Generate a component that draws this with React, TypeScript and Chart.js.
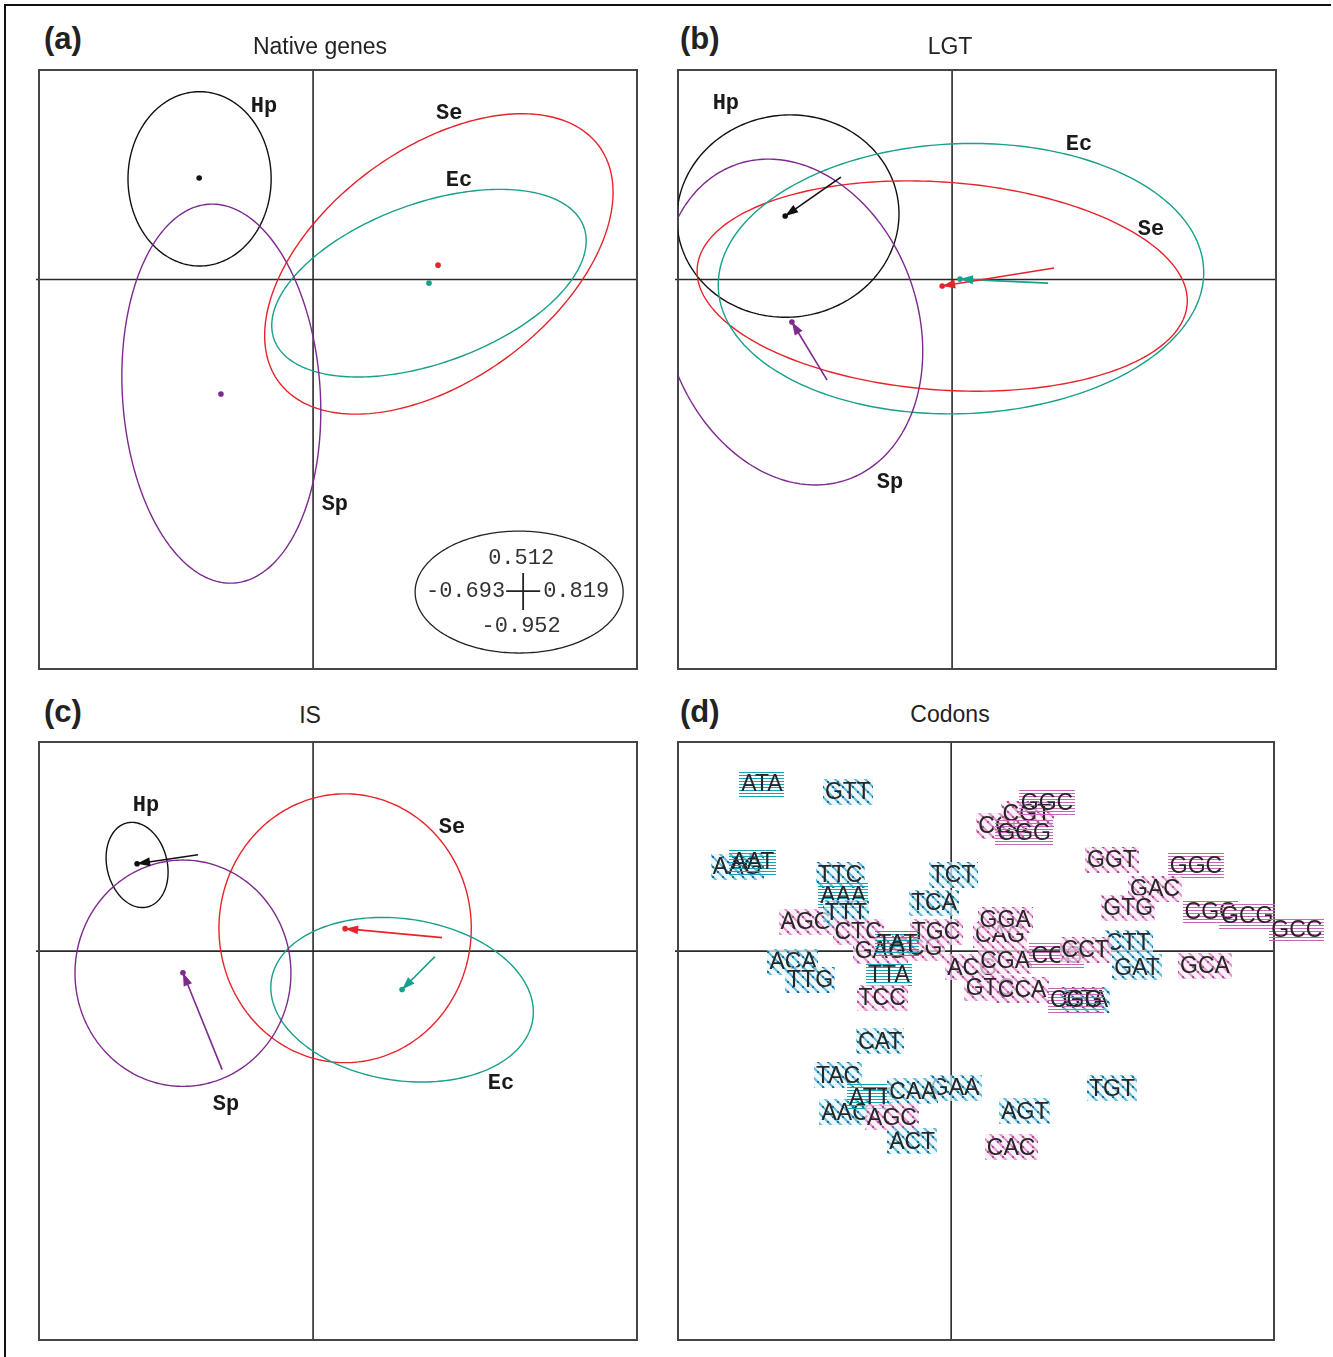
import React, { useEffect, useRef } from "react";
import { Chart, registerables } from "chart.js";
Chart.register(...registerables);

// ---------- shared axis extents (printed in the scale key of panel a) ----------
const X_MIN = -0.693;
const X_MAX = 0.819;
const Y_MIN = -0.952;
const Y_MAX = 0.512;

const GROUPS = ["Hp", "Se", "Ec", "Sp"];
const GROUP_COLORS = ["#111111", "#e8232a", "#17a08a", "#7d2a8e"];

const PANEL_TAGS = ["(a)", "(b)", "(c)", "(d)"];
const PANEL_TITLES = ["Native genes", "LGT", "IS", "Codons"];

// ---------- (a) Native genes ----------
const A_MEAN_X = [-0.288, 0.316, 0.293, -0.233];
const A_MEAN_Y = [0.248, 0.035, -0.009, -0.28];
const A_ELL_X = [-0.287, 0.318, 0.293, -0.232];
const A_ELL_Y = [0.246, 0.038, -0.009, -0.279];
const A_ELL_RX = [0.181, 0.497, 0.415, 0.25];
const A_ELL_RY = [0.213, 0.286, 0.196, 0.464];
const A_ELL_ROT = [0, 34.5, 19, 4];
const A_LABEL_X = [-0.124, 0.344, 0.369, 0.055];
const A_LABEL_Y = [0.424, 0.407, 0.243, -0.551];

// ---------- (b) LGT ----------
const B_MEAN_X = [-0.422, -0.025, 0.02, -0.405];
const B_MEAN_Y = [0.155, -0.016, 0.001, -0.104];
const B_FROM_X = [-0.281, 0.258, 0.2425, -0.316];
const B_FROM_Y = [0.25, 0.028, -0.009, -0.246];
const B_ELL_X = [-0.415, -0.025, 0.0225, -0.405];
const B_ELL_Y = [0.155, -0.016, 0.002, -0.104];
const B_ELL_RX = [0.281, 0.621, 0.614, 0.316];
const B_ELL_RY = [0.247, 0.254, 0.33, 0.41];
const B_ELL_ROT = [5, -4, 2, 22];
const B_LABEL_X = [-0.572, 0.503, 0.321, -0.157];
const B_LABEL_Y = [0.431, 0.123, 0.329, -0.497];

// ---------- (c) IS ----------
const C_MEAN_X = [-0.445, 0.081, 0.225, -0.329];
const C_MEAN_Y = [0.214, 0.055, -0.094, -0.053];
const C_FROM_X = [-0.291, 0.326, 0.308, -0.23];
const C_FROM_Y = [0.236, 0.033, -0.0135, -0.29];
const C_ELL_X = [-0.445, 0.081, 0.225, -0.329];
const C_ELL_Y = [0.211, 0.056, -0.119, -0.054];
const C_ELL_RX = [0.076, 0.319, 0.334, 0.273];
const C_ELL_RY = [0.106, 0.329, 0.198, 0.277];
const C_ELL_ROT = [15, 0, -8, 0];
const C_LABEL_X = [-0.4225, 0.351, 0.475, -0.22];
const C_LABEL_Y = [0.356, 0.304, -0.324, -0.375];

// ---------- (d) Codons ----------
// class: 0 = A/T hatched, 1 = A/T lined, 2 = G/C hatched, 3 = G/C lined
const CODONS = [
  "ATA", "GTT", "AAG", "AAT", "TTC", "AAA", "AGG", "TTT", "CTC", "TCT",
  "TCA", "TCG", "TGC", "GAG", "TAT", "TTA", "TCC", "ACA", "TTG", "CAT",
  "TAC", "AAC", "ATT", "GAA", "CAA", "AGC", "ACT", "AGT", "CAC", "TGT",
  "CCC", "CGT", "GGC", "GGG", "GGT", "GGC", "GAC", "GTG", "CGC", "GCG",
  "GCC", "CAG", "GGA", "ACG", "GTC", "CGA", "CCA", "CTT", "CCG", "CCT",
  "GAT", "GCA", "GTA", "CGG",
];
const CODON_X = [
  -0.48, -0.262, -0.543, -0.503, -0.282, -0.274, -0.368, -0.267, -0.236, 0.005,
  -0.0435, -0.084, -0.0385, -0.18, -0.137, -0.158, -0.175, -0.401, -0.358, -0.18,
  -0.287, -0.269, -0.206, 0.01, -0.097, -0.15, -0.099, 0.187, 0.152, 0.408,
  0.132, 0.192, 0.243, 0.185, 0.408, 0.621, 0.517, 0.449, 0.657, 0.751,
  0.877, 0.124, 0.137, 0.053, 0.0985, 0.137, 0.18, 0.449, 0.2685, 0.34,
  0.4715, 0.644, 0.34, 0.317,
];
const CODON_Y = [
  0.409, 0.39, 0.206, 0.219, 0.187, 0.136, 0.072, 0.094, 0.048, 0.187,
  0.118, 0.0085, 0.048, 0.001, 0.018, -0.0575, -0.1137, -0.0257, -0.0697, -0.221,
  -0.304, -0.395, -0.358, -0.334, -0.343, -0.407, -0.466, -0.392, -0.48, -0.336,
  0.307, 0.336, 0.363, 0.29, 0.224, 0.209, 0.153, 0.106, 0.097, 0.0867,
  0.0525, 0.04, 0.077, -0.04, -0.0893, -0.0233, -0.094, 0.0207, -0.011, 0.0036,
  -0.04, -0.0355, -0.1186, -0.1186,
];
const CODON_CLASS = [
  1, 0, 0, 1, 0, 1, 2, 0, 2, 0,
  0, 2, 2, 2, 1, 1, 2, 0, 0, 0,
  0, 0, 1, 0, 0, 2, 0, 0, 2, 0,
  2, 2, 3, 3, 2, 3, 2, 2, 3, 3,
  3, 2, 2, 2, 2, 2, 2, 0, 3, 2,
  0, 2, 0, 3,
];

const SANS = "'Liberation Sans', Arial, Helvetica, sans-serif";
const MONO = "'Liberation Mono', 'Courier New', monospace";

type GroupPanel = {
  meanX: number[]; meanY: number[];
  fromX?: number[]; fromY?: number[];
  ellX: number[]; ellY: number[]; ellRX: number[]; ellRY: number[]; ellRot: number[];
  labelX: number[]; labelY: number[];
  key?: boolean;
};

const GROUP_PANELS: GroupPanel[] = [
  { meanX: A_MEAN_X, meanY: A_MEAN_Y, ellX: A_ELL_X, ellY: A_ELL_Y, ellRX: A_ELL_RX, ellRY: A_ELL_RY, ellRot: A_ELL_ROT, labelX: A_LABEL_X, labelY: A_LABEL_Y, key: true },
  { meanX: B_MEAN_X, meanY: B_MEAN_Y, fromX: B_FROM_X, fromY: B_FROM_Y, ellX: B_ELL_X, ellY: B_ELL_Y, ellRX: B_ELL_RX, ellRY: B_ELL_RY, ellRot: B_ELL_ROT, labelX: B_LABEL_X, labelY: B_LABEL_Y },
  { meanX: C_MEAN_X, meanY: C_MEAN_Y, fromX: C_FROM_X, fromY: C_FROM_Y, ellX: C_ELL_X, ellY: C_ELL_Y, ellRX: C_ELL_RX, ellRY: C_ELL_RY, ellRot: C_ELL_ROT, labelX: C_LABEL_X, labelY: C_LABEL_Y },
];

// canvas placement of the four panels
const LAYOUT = [
  { left: 0, top: 58, w: 666, h: 628, pad: { left: 39, top: 12, right: 29, bottom: 17 } },
  { left: 666, top: 58, w: 667, h: 628, pad: { left: 12, top: 12, right: 57, bottom: 17 } },
  { left: 0, top: 730, w: 666, h: 627, pad: { left: 39, top: 12, right: 29, bottom: 17 } },
  { left: 666, top: 730, w: 667, h: 627, pad: { left: 12, top: 12, right: 59, bottom: 17 } },
];
const TITLE_POS = [
  { tag: [44, 38], title: [320, 46] },
  { tag: [680, 38], title: [950, 46] },
  { tag: [44, 711], title: [310, 715] },
  { tag: [680, 711], title: [950, 714] },
];

function makePatterns(ctx: CanvasRenderingContext2D) {
  const hatch = (bg: string, line: string, dot: string) => {
    const c = document.createElement("canvas");
    c.width = 10; c.height = 10;
    const g = c.getContext("2d")!;
    g.fillStyle = bg; g.fillRect(0, 0, 10, 10);
    g.strokeStyle = line; g.lineWidth = 2;
    g.beginPath();
    g.moveTo(-2, -2); g.lineTo(12, 12);
    g.moveTo(-2, 8); g.lineTo(2, 12);
    g.moveTo(8, -2); g.lineTo(12, 2);
    g.stroke();
    g.fillStyle = dot;
    g.fillRect(1, 1, 2, 2); g.fillRect(6, 6, 2, 2);
    return ctx.createPattern(c, "repeat")!;
  };
  const lines = (col: string) => {
    const c = document.createElement("canvas");
    c.width = 4; c.height = 3;
    const g = c.getContext("2d")!;
    g.fillStyle = col; g.fillRect(0, 0, 4, 1);
    return ctx.createPattern(c, "repeat")!;
  };
  return [
    hatch("rgba(228,245,250,0.7)", "rgba(80,175,210,0.85)", "#1e6fa0"),
    lines("#17a3b6"),
    hatch("rgba(251,234,246,0.7)", "rgba(220,135,195,0.85)", "#b0509a"),
    lines("#c768b6"),
  ];
}

function baseOptions(pad: any) {
  return {
    responsive: false,
    maintainAspectRatio: false,
    animation: false as const,
    devicePixelRatio: 1,
    events: [] as any[],
    layout: { padding: pad },
    scales: {
      x: { type: "linear" as const, min: X_MIN, max: X_MAX, display: false },
      y: { type: "linear" as const, min: Y_MIN, max: Y_MAX, display: false },
    },
    plugins: { legend: { display: false }, tooltip: { enabled: false }, title: { display: false } },
  };
}

function drawFrame(chart: any) {
  const { ctx, chartArea: ca, scales } = chart;
  const x0 = scales.x.getPixelForValue(0);
  const y0 = scales.y.getPixelForValue(0);
  ctx.save();
  ctx.strokeStyle = "#2a2a2a";
  ctx.lineWidth = 1.6;
  ctx.beginPath();
  ctx.moveTo(x0, ca.top); ctx.lineTo(x0, ca.bottom);
  ctx.moveTo(ca.left - 3, y0); ctx.lineTo(ca.right, y0);
  ctx.stroke();
  ctx.strokeStyle = "#454545";
  ctx.lineWidth = 2;
  ctx.strokeRect(ca.left, ca.top, ca.right - ca.left, ca.bottom - ca.top);
  ctx.restore();
}

function ellipsePath(ctx: CanvasRenderingContext2D, sx: any, sy: any, cx: number, cy: number, rx: number, ry: number, rot: number) {
  const th = (rot * Math.PI) / 180;
  ctx.beginPath();
  for (let i = 0; i <= 240; i++) {
    const t = (i / 240) * Math.PI * 2;
    const dx = rx * Math.cos(t);
    const dy = ry * Math.sin(t);
    const px = sx.getPixelForValue(cx + dx * Math.cos(th) - dy * Math.sin(th));
    const py = sy.getPixelForValue(cy + dx * Math.sin(th) + dy * Math.cos(th));
    if (i === 0) ctx.moveTo(px, py); else ctx.lineTo(px, py);
  }
  ctx.closePath();
}

function buildGroupChart(canvas: HTMLCanvasElement, p: GroupPanel, pad: any) {
  const datasets: any[] = [
    {
      data: p.meanX.map((x, i) => ({ x, y: p.meanY[i] })),
      pointRadius: 2.8,
      pointBackgroundColor: GROUP_COLORS,
      pointBorderWidth: 0,
      showLine: false,
      clip: false,
    },
  ];
  if (p.fromX && p.fromY) {
    GROUPS.forEach((_, i) => {
      datasets.push({
        data: [
          { x: p.fromX![i], y: p.fromY![i] },
          { x: p.meanX[i], y: p.meanY[i] },
        ],
        showLine: true,
        borderColor: GROUP_COLORS[i],
        borderWidth: 1.6,
        pointRadius: 0,
        clip: false,
      });
    });
  }
  const plugin = {
    id: "groupDecor",
    beforeDatasetsDraw(chart: any) {
      const { ctx, chartArea: ca, scales } = chart;
      drawFrame(chart);
      ctx.save();
      ctx.beginPath();
      ctx.rect(ca.left, ca.top, ca.right - ca.left, ca.bottom - ca.top);
      ctx.clip();
      GROUPS.forEach((_, i) => {
        ellipsePath(ctx, scales.x, scales.y, p.ellX[i], p.ellY[i], p.ellRX[i], p.ellRY[i], p.ellRot[i]);
        ctx.strokeStyle = GROUP_COLORS[i];
        ctx.lineWidth = 1.4;
        ctx.stroke();
      });
      ctx.restore();
      if (p.key) {
        // scale key: ellipse holding the axis extents
        const kx = 0.521, ky = -0.764;
        ctx.save();
        ellipsePath(ctx, scales.x, scales.y, kx, ky, 0.263, 0.149, 0);
        ctx.strokeStyle = "#222";
        ctx.lineWidth = 1.3;
        ctx.stroke();
        const cx = scales.x.getPixelForValue(kx);
        const cy = scales.y.getPixelForValue(ky);
        ctx.strokeStyle = "#222";
        ctx.lineWidth = 1.8;
        ctx.beginPath();
        ctx.moveTo(cx - 13, cy - 1); ctx.lineTo(cx + 21, cy - 1);
        ctx.moveTo(cx + 4, cy - 19); ctx.lineTo(cx + 4, cy + 18);
        ctx.stroke();
        ctx.fillStyle = "#333";
        ctx.font = `22px ${MONO}`;
        ctx.textBaseline = "middle";
        ctx.textAlign = "center";
        ctx.fillText(Y_MAX.toFixed(3), cx + 2, cy - 34);
        ctx.fillText(Y_MIN.toFixed(3), cx + 2, cy + 34);
        ctx.textAlign = "right";
        ctx.fillText(X_MIN.toFixed(3), cx - 14, cy - 1);
        ctx.textAlign = "left";
        ctx.fillText(X_MAX.toFixed(3), cx + 24, cy - 1);
        ctx.restore();
      }
    },
    afterDatasetsDraw(chart: any) {
      const { ctx, scales } = chart;
      ctx.save();
      if (p.fromX) {
        GROUPS.forEach((_, i) => {
          const meta = chart.getDatasetMeta(i + 1);
          const a = meta.data[0], b = meta.data[1];
          const ang = Math.atan2(b.y - a.y, b.x - a.x);
          const L = 13, W = 4.5;
          ctx.fillStyle = GROUP_COLORS[i];
          ctx.beginPath();
          ctx.moveTo(b.x, b.y);
          ctx.lineTo(b.x - L * Math.cos(ang) + W * Math.sin(ang), b.y - L * Math.sin(ang) - W * Math.cos(ang));
          ctx.lineTo(b.x - L * Math.cos(ang) - W * Math.sin(ang), b.y - L * Math.sin(ang) + W * Math.cos(ang));
          ctx.closePath();
          ctx.fill();
        });
      }
      ctx.fillStyle = "#1a1a1a";
      ctx.font = `bold 22px ${MONO}`;
      ctx.textAlign = "center";
      ctx.textBaseline = "middle";
      GROUPS.forEach((g, i) => {
        ctx.fillText(g, scales.x.getPixelForValue(p.labelX[i]), scales.y.getPixelForValue(p.labelY[i]));
      });
      ctx.restore();
    },
  };
  return new Chart(canvas, {
    type: "scatter",
    data: { datasets },
    options: baseOptions(pad) as any,
    plugins: [plugin],
  });
}

function buildCodonChart(canvas: HTMLCanvasElement, pad: any) {
  const datasets: any[] = [
    {
      data: CODON_X.map((x, i) => ({ x, y: CODON_Y[i] })),
      pointRadius: 0,
      showLine: false,
      clip: false,
    },
  ];
  const plugin = {
    id: "codonDecor",
    beforeDatasetsDraw(chart: any) {
      drawFrame(chart);
    },
    afterDatasetsDraw(chart: any) {
      const { ctx } = chart;
      const pats = makePatterns(ctx);
      const meta = chart.getDatasetMeta(0);
      ctx.save();
      ctx.font = `23px ${SANS}`;
      ctx.textAlign = "center";
      ctx.textBaseline = "middle";
      CODONS.forEach((c, i) => {
        const pt = meta.data[i];
        const w = ctx.measureText(c).width + 4;
        const h = 26;
        ctx.fillStyle = pats[CODON_CLASS[i]];
        ctx.fillRect(Math.round(pt.x - w / 2), Math.round(pt.y - h / 2), Math.round(w), h);
        ctx.fillStyle = "#262626";
        ctx.fillText(c, pt.x, pt.y + 1);
      });
      ctx.restore();
    },
  };
  return new Chart(canvas, {
    type: "scatter",
    data: { datasets },
    options: baseOptions(pad) as any,
    plugins: [plugin],
  });
}

function Panel({ index }: { index: number }) {
  const ref = useRef<HTMLCanvasElement>(null);
  const L = LAYOUT[index];
  useEffect(() => {
    const canvas = ref.current!;
    const chart = index < 3 ? buildGroupChart(canvas, GROUP_PANELS[index], L.pad) : buildCodonChart(canvas, L.pad);
    return () => chart.destroy();
  }, [index]);
  return (
    <canvas
      ref={ref}
      width={L.w}
      height={L.h}
      style={{ position: "absolute", left: L.left, top: L.top, width: L.w, height: L.h }}
    />
  );
}

export default function App() {
  return (
    <div style={{ position: "absolute", left: 0, top: 0, width: 1333, height: 1357, background: "#fff", overflow: "hidden" }}>
      <div style={{ position: "absolute", left: 4, top: 4, width: 1327, height: 2, background: "#111" }} />
      <div style={{ position: "absolute", left: 4, top: 4, width: 2, height: 1353, background: "#111" }} />
      {[0, 1, 2, 3].map((i) => (
        <Panel key={i} index={i} />
      ))}
      {TITLE_POS.map((t, i) => (
        <React.Fragment key={"t" + i}>
          <div
            style={{
              position: "absolute", left: t.tag[0], top: t.tag[1], transform: "translateY(-50%)",
              font: `bold 31px ${SANS}`, color: "#222", whiteSpace: "nowrap", lineHeight: "1",
            }}
          >
            {PANEL_TAGS[i]}
          </div>
          <div
            style={{
              position: "absolute", left: t.title[0], top: t.title[1], transform: "translate(-50%,-50%)",
              font: `23px ${SANS}`, color: "#222", whiteSpace: "nowrap", lineHeight: "1",
            }}
          >
            {PANEL_TITLES[i]}
          </div>
        </React.Fragment>
      ))}
    </div>
  );
}
